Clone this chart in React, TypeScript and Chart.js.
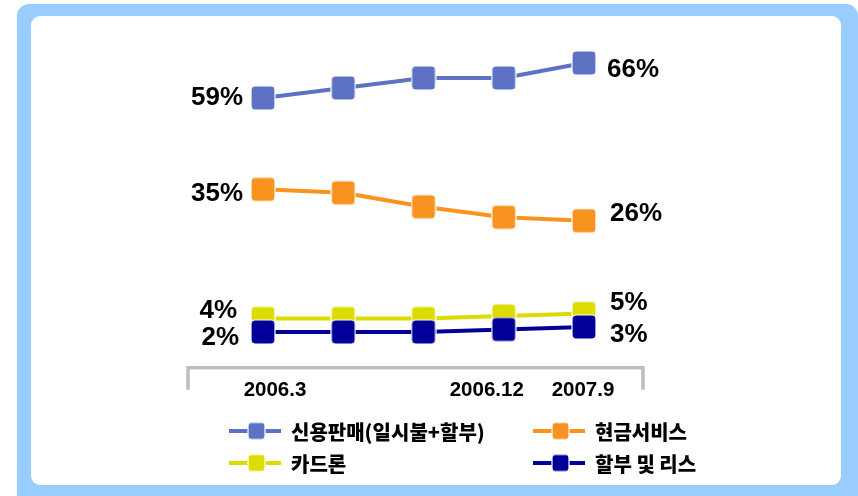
import React, { useEffect, useRef } from "react";
import { Chart, registerables } from "chart.js";

Chart.register(...registerables);

// ---- data ----
const categories = ["2006.3", "2006.6", "2006.9", "2006.12", "2007.9"];
const tickLabels = ["2006.3", "", "", "2006.12", "2007.9"];
const seriesNames = ["신용판매(일시불+할부)", "현금서비스", "카드론", "할부 및 리스"];
const creditSales = [59, 61, 63, 63, 66];
const cashService = [35, 34, 30, 27, 26];
const cardLoan = [4, 4, 4, 4.5, 5];
const installmentLease = [2, 2, 2, 2.5, 3];

// ---- styles ----
const colors = ["#5E72C4", "#F7931E", "#DCDC00", "#000099"];
const labelFont = 'bold 26px "Liberation Sans", Arial, sans-serif';
const tickFont = 'bold 20.5px "Liberation Sans", Arial, sans-serif';
const legendFont = '900 20px "Noto Sans CJK KR", sans-serif';
// label placement relative to first / last point
const labelOffsets = [
  { first: [-20, 0], last: [23, 7] },
  { first: [-20, 4], last: [26, -7] },
  { first: [-26, -8], last: [26, -11] },
  { first: [-24, 6], last: [26, 8] },
];
const tickOffsets = [12, 0, 0, -17, -1];

function makeMarker(color: string, size: number, radius: number): HTMLCanvasElement {
  const c = document.createElement("canvas");
  const s = size + 2;
  c.width = s;
  c.height = s;
  const g = c.getContext("2d")!;
  g.beginPath();
  (g as any).roundRect(1, 1, size, size, radius);
  g.fillStyle = color;
  g.fill();
  g.lineWidth = 1.2;
  g.strokeStyle = "#FFFFFF";
  g.stroke();
  return c;
}

const overlayPlugin = {
  id: "overlay",
  afterDraw(chart: any) {
    const ctx: CanvasRenderingContext2D = chart.ctx;
    const xs = chart.scales.x;
    const area = chart.chartArea;
    ctx.save();
    // axis bracket
    const left = xs.getPixelForValue(0) - 75;
    const right = xs.getPixelForValue(categories.length - 1) + 59;
    const yb = area.bottom + 7.7;
    ctx.strokeStyle = "#BEBEBE";
    ctx.lineWidth = 3.5;
    ctx.lineJoin = "miter";
    ctx.beginPath();
    ctx.moveTo(left, yb + 22);
    ctx.lineTo(left, yb);
    ctx.lineTo(right, yb);
    ctx.lineTo(right, yb + 22);
    ctx.stroke();

    // tick labels
    ctx.fillStyle = "#000";
    ctx.font = tickFont;
    ctx.textAlign = "center";
    ctx.textBaseline = "middle";
    tickLabels.forEach((t, i) => {
      if (!t) return;
      ctx.fillText(t, xs.getPixelForValue(i) + tickOffsets[i], area.bottom + 30);
    });

    // data labels on first and last points
    ctx.font = labelFont;
    chart.data.datasets.forEach((ds: any, di: number) => {
      const meta = chart.getDatasetMeta(di);
      const n = meta.data.length;
      const p0 = meta.data[0];
      const p1 = meta.data[n - 1];
      const o = labelOffsets[di];
      ctx.textAlign = "right";
      ctx.fillText(ds.data[0] + "%", p0.x + o.first[0], p0.y + o.first[1]);
      ctx.textAlign = "left";
      ctx.fillText(ds.data[n - 1] + "%", p1.x + o.last[0], p1.y + o.last[1]);
    });

    // legend
    const rows = [431, 463];
    const cols = [229, 533];
    ctx.font = legendFont;
    ctx.textAlign = "left";
    ctx.textBaseline = "middle";
    chart.data.datasets.forEach((ds: any, di: number) => {
      const x0 = cols[di % 2];
      const y = rows[Math.floor(di / 2)];
      ctx.strokeStyle = ds.borderColor;
      ctx.lineWidth = 4;
      ctx.beginPath();
      ctx.moveTo(x0, y);
      ctx.lineTo(x0 + 52, y);
      ctx.stroke();
      const m = makeMarker(ds.borderColor, 17, 3);
      ctx.drawImage(m, x0 + 27.5 - m.width / 2, y - m.height / 2);
      ctx.fillStyle = "#000";
      ctx.fillText(ds.label, x0 + 62, y + 1);
    });
    ctx.restore();
  },
};

export default function App() {
  const ref = useRef<HTMLCanvasElement | null>(null);

  useEffect(() => {
    if (!ref.current) return;
    const series = [creditSales, cashService, cardLoan, installmentLease];
    const axisIds = ["yCredit", "yCash", "yLoan", "yLease"];
    const orders = [3, 2, 1, 0];
    const chart = new Chart(ref.current, {
      type: "line",
      data: {
        labels: categories,
        datasets: series.map((d, i) => ({
          label: seriesNames[i],
          data: d,
          yAxisID: axisIds[i],
          borderColor: colors[i],
          backgroundColor: colors[i],
          borderWidth: 4,
          pointStyle: makeMarker(colors[i], 24, 4) as any,
          pointRadius: 12,
          tension: 0,
          clip: false as any,
          order: orders[i],
        })),
      },
      options: {
        animation: false,
        responsive: false,
        events: [],
        layout: { padding: { left: 263, right: 274, top: 40, bottom: 136 } },
        plugins: {
          legend: { display: false },
          tooltip: { enabled: false },
        },
        scales: {
          x: { type: "category", display: false, offset: false },
          yCredit: { type: "linear", display: false, min: 6.6, max: 70.6 },
          yCash: { type: "linear", display: false, min: -13.9, max: 77.8 },
          yLoan: { type: "linear", display: false, min: -4.3, max: 59.7 },
          yLease: { type: "linear", display: false, min: -3.6, max: 60.4 },
        },
      },
      plugins: [overlayPlugin],
    });
    return () => chart.destroy();
  }, []);

  return (
    <div
      style={{
        position: "fixed",
        left: 0,
        top: 0,
        width: 858,
        height: 496,
        overflow: "hidden",
        background: "#FFFFFF",
      }}
    >
      <div
        style={{
          position: "absolute",
          left: 17,
          top: 4,
          width: 841,
          height: 520,
          background: "#99CCFF",
          borderRadius: 12,
        }}
      />
      <div
        style={{
          position: "absolute",
          left: 31,
          top: 16,
          width: 810,
          height: 469,
          background: "#FFFFFF",
          borderRadius: 9,
        }}
      />
      <canvas
        ref={ref}
        width={858}
        height={496}
        style={{ position: "absolute", left: 0, top: 0, width: 858, height: 496 }}
      />
    </div>
  );
}
